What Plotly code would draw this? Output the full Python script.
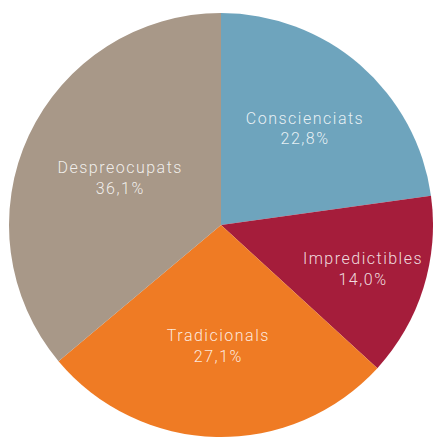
import plotly.graph_objects as go

labels = ["Conscienciats", "Impredictibles", "Tradicionals", "Despreocupats"]
values = [22.8, 14.0, 27.1, 36.1]
value_text = ["22,8%", "14,0%", "27,1%", "36,1%"]
colors = ["#6ea4bd", "#a51d3b", "#ef7b24", "#a89888"]

W, H = 433, 441

fig = go.Figure(go.Pie(
    labels=labels,
    values=values,
    text=value_text,
    texttemplate="%{label}<br>%{text}",
    textposition="inside",
    insidetextorientation="horizontal",
    sort=False,
    direction="clockwise",
    rotation=0,
    domain=dict(x=[9 / W, 1], y=[1 - 437 / H, 1 - 13 / H]),
    marker=dict(colors=colors, line=dict(width=0)),
    textfont=dict(family="Roboto", size=16, weight=300, color="rgba(255,255,255,0.85)"),
    hoverinfo="skip",
    showlegend=False,
))
fig.update_layout(
    width=W, height=H,
    margin=dict(l=0, r=0, t=0, b=0),
    paper_bgcolor="white",
    plot_bgcolor="white",
)
post = (
    "document.body.style.margin='0';"
    "var s=document.createElement('style');"
    "s.textContent='.slicetext{letter-spacing:1.5px;}';"
    "document.head.appendChild(s);"
)
fig.write_html("out.html", post_script=post, config={"displayModeBar": False})
